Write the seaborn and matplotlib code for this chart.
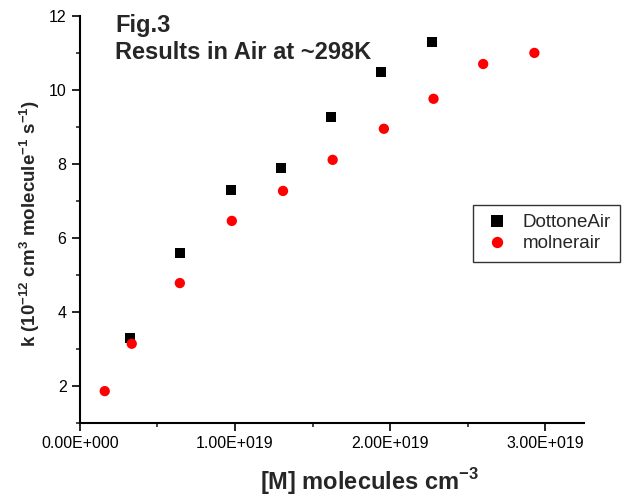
import matplotlib
matplotlib.use("Agg")
from matplotlib import pyplot as plt
from matplotlib.ticker import FuncFormatter, MultipleLocator
import seaborn as sns
import pandas as pd

dottone_x = [0.323e19, 0.645e19, 0.974e19, 1.297e19, 1.62e19, 1.94e19, 2.27e19]
dottone_k = [3.30, 5.59, 7.30, 7.89, 9.27, 10.49, 11.30]

molner_x = [0.161e19, 0.335e19, 0.645e19, 0.98e19, 1.31e19, 1.63e19, 1.96e19, 2.28e19, 2.60e19, 2.93e19]
molner_k = [1.86, 3.14, 4.78, 6.46, 7.27, 8.11, 8.95, 9.76, 10.70, 11.00]

series_names = ["DottoneAir", "molnerair"]

df = pd.DataFrame({
    "M": dottone_x + molner_x,
    "k": dottone_k + molner_k,
    "series": [series_names[0]] * len(dottone_x) + [series_names[1]] * len(molner_x),
})

sns.set_style("ticks")
plt.rcParams["font.family"] = ["Liberation Sans", "DejaVu Sans"]
plt.rcParams["mathtext.fontset"] = "custom"
plt.rcParams["mathtext.rm"] = "Liberation Sans"
plt.rcParams["mathtext.bf"] = "Liberation Sans:bold"

fig = plt.figure(figsize=(6.28, 4.97), dpi=100)
ax = fig.add_axes([0.127, 0.149, 0.803, 0.819])

sns.scatterplot(data=df, x="M", y="k", hue="series", style="series",
                palette={"DottoneAir": "black", "molnerair": "red"},
                markers={"DottoneAir": "s", "molnerair": "o"},
                s=55, linewidth=0, ax=ax)

ax.set_xlim(0, 3.25e19)
ax.set_ylim(1, 12)
ax.xaxis.set_major_locator(MultipleLocator(1e19))
ax.xaxis.set_minor_locator(MultipleLocator(0.5e19))
ax.yaxis.set_major_locator(MultipleLocator(2))
ax.yaxis.set_minor_locator(MultipleLocator(1))


def sci_fmt(v, pos):
    if v == 0:
        return "0.00E+000"
    mant, exp = f"{v:.2E}".split("E")
    return f"{mant}E{int(exp):+04d}"


ax.xaxis.set_major_formatter(FuncFormatter(sci_fmt))
ax.tick_params(which="major", direction="out", length=6, width=1.2, labelsize=11.5, colors="black")
ax.tick_params(which="minor", direction="out", length=3, width=1.2)
sns.despine(ax=ax)
for sp in ["left", "bottom"]:
    ax.spines[sp].set_linewidth(1.5)
    ax.spines[sp].set_color("black")

ax.set_xlabel(r"[M] molecules cm$^{\mathbf{-3}}$", fontsize=17, fontweight="bold")
ax.xaxis.set_label_coords(0.575, -0.105)
ax.set_ylabel(r"k (10$^{\mathbf{-12}}$ cm$^{\mathbf{3}}$ molecule$^{\mathbf{-1}}$ s$^{\mathbf{-1}}$)",
              fontsize=13.5, fontweight="bold", va="center")
ax.yaxis.set_label_coords(-0.1, 0.49)

ax.text(0.07, 1.005, "Fig.3\nResults in Air at ~298K", transform=ax.transAxes,
        fontsize=17, fontweight="bold", va="top", ha="left", linespacing=1.25)

leg = ax.legend(loc="upper left", bbox_to_anchor=(0.78, 0.5356), frameon=True,
                fancybox=False, edgecolor="black", fontsize=13.5, markerscale=1.1,
                handlelength=1.5, handletextpad=0.64, borderpad=0.5, labelspacing=0.2,
                borderaxespad=0, title=None)
leg.get_frame().set_linewidth(1.0)

fig.savefig("out.png", dpi=100)
